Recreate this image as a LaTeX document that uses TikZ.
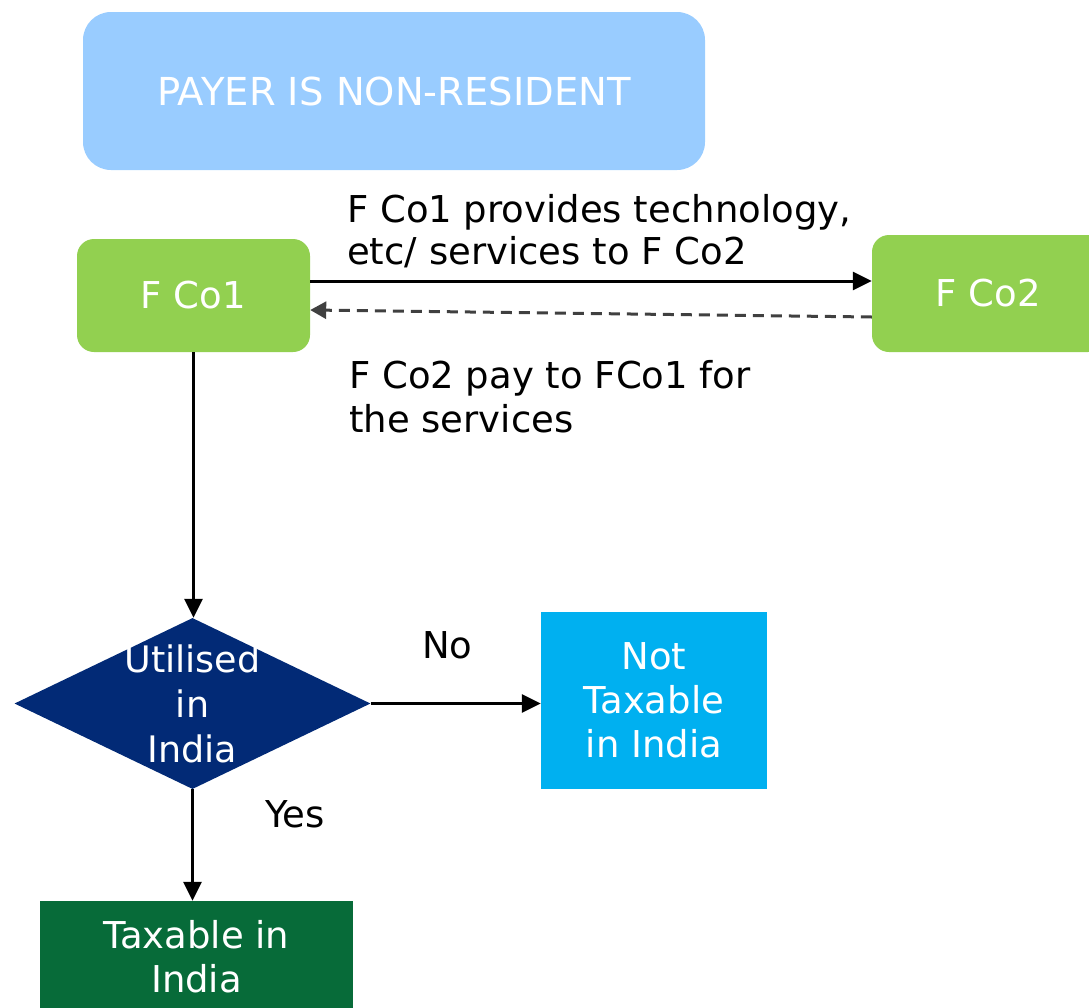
\documentclass[tikz,border=0pt]{standalone}
\usepackage{fontspec}
\setmainfont{DejaVu Sans}
\usetikzlibrary{arrows.meta,shapes.geometric}

\definecolor{headblue}{HTML}{99CCFF}
\definecolor{cogreen}{HTML}{92D050}
\definecolor{decnavy}{HTML}{022A76}
\definecolor{skyblue}{HTML}{00B0F0}
\definecolor{taxgreen}{HTML}{076B39}
\definecolor{dashgray}{HTML}{404040}

\begin{document}
\begin{tikzpicture}[x=1pt,y=-1pt,
  body/.style={font=\fontsize{37}{44}\selectfont},
  box/.style={body, text=white, align=center, inner sep=0pt},
  company/.style={box, fill=cogreen, rounded corners=17pt,
                  minimum width=233pt},
  conn/.style={line width=3pt, -{Triangle[length=19pt,width=18pt]}},
  backconn/.style={line width=3pt, dashgray, dash pattern=on 11pt off 7pt,
                   -{Triangle[length=16pt,width=17pt]}},
  label/.style={body, anchor=base west, align=left, inner sep=0pt}]

\useasboundingbox (0,0) rectangle (1089,1007);

% header
\node[box, fill=headblue, rounded corners=28pt, minimum width=622pt,
      minimum height=158pt, font=\fontsize{38.5}{46}\selectfont]
      (head) at (394,91) {PAYER IS NON-RESIDENT};

% the two companies
\node[company, minimum height=113pt] (fco1) at (193.5,295.5) {F Co1};
\node[company, minimum height=117pt] (fco2) at (988.5,293.5) {F Co2};

% decision
\node[diamond, fill=decnavy, minimum width=356pt, minimum height=171pt,
      inner sep=0pt] (dec) at (192.5,703.5) {};
\node[box, font=\fontsize{36.5}{45}\selectfont] (dectext) at (dec.center)
      {Utilised\\in\\India};

% outcomes
\node[box, fill=skyblue, minimum width=226pt, minimum height=177pt]
      (nt) at (654,700.5) {Not\\Taxable\\in India};
\node[box, fill=taxgreen, minimum width=313pt, minimum height=111pt]
      (tax) at (196.5,956.5) {Taxable in\\India};

% flows between the companies
\coordinate (s1) at ([yshift=14.5pt]fco1.east);
\draw[conn] (s1) -- (s1 -| fco2.west);
\coordinate (s2) at ([yshift=-23.5pt]fco2.west);
\coordinate (e2) at ([yshift=-14.5pt]fco1.east);
\draw[backconn] (s2) -- (e2);

% the base anchor of a two-line label sits on its last line
\node[label, font=\fontsize{37}{42}\selectfont] (lab1) at (347,264)
      {F Co1 provides technology,\\etc/ services to F Co2};
\node[label] (lab2) at (349,432) {F Co2 pay to FCo1 for\\the services};

% decision flow
\draw[conn] (fco1.south) -- (fco1.south |- dec.north);
\draw[conn] (dec.east) -- (dec.east -| nt.west);
\draw[conn] (dec.south) -- (dec.south |- tax.north);

\node[label] (no) at (422,658) {No};
\node[label] (yes) at (265,827) {Yes};

\end{tikzpicture}
\end{document}
